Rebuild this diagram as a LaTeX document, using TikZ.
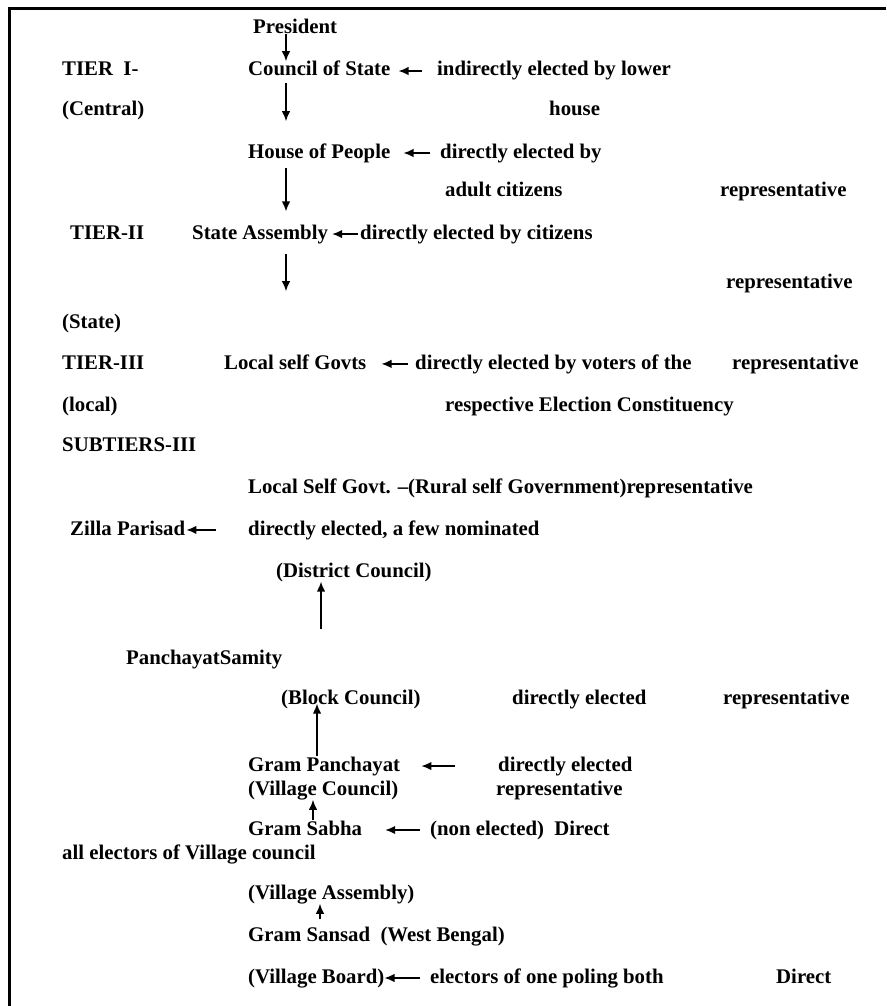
\documentclass[tikz,border=0pt]{standalone}
\usepackage{fontspec}
\setmainfont{Liberation Serif}
\usetikzlibrary{arrows.meta,calc}
\definecolor{color_frame}{HTML}{000000}

\begin{document}
\begin{tikzpicture}[x=1pt,y=-1pt,
		every node/.style={anchor=base west,inner sep=0pt,font=\bfseries\fontsize{20.8}{25}\selectfont},
		arr/.style={-{Latex[length=10pt,width=8.5pt]},line width=1.5pt}]
		\useasboundingbox (0, 0) rectangle (886, 1006);
		% Frame
		\draw[line width=3pt,color_frame]
			(9, 1006) -- (9, 9) -- (886, 9)
			;

		% Points
		\coordinate (AX) at (286, 0);
		\coordinate (AXD) at (321, 0);
		\coordinate (AXB) at (317, 0);
		\coordinate (AXV) at (313, 0);
		\coordinate (AXA) at (320, 0);

		% Tier I
		\node (president) at (253, 34) {President};
		\node (tier_one) at (62, 76) {TIER\ \ I-};
		\node (council) at (248, 76) {Council of State};
		\node (council_note) at (437, 76) {indirectly elected by lower};
		\node (central) at (62, 116) {(Central)};
		\node (council_note_b) at (549, 116) {house};
		\node (house) at (248, 158) {House of People};
		\node (house_note) at (440, 158) {directly elected by};
		\node (house_note_b) at (445, 196) {adult citizens};
		\node (house_rep) at (720, 196) {representative};

		% Tier II
		\node (tier_two) at (70, 239) {TIER-II};
		\node (assembly) at (192, 239) {State Assembly};
		\node (assembly_note) at (360, 239) {directly elected by citizens};
		\node (assembly_rep) at (726, 288) {representative};
		\node (state) at (62, 328) {(State)};

		% Tier III
		\node (tier_three) at (62, 369) {TIER-III};
		\node (local) at (224, 369) {Local self Govts};
		\node (local_note) at (415, 369) {directly elected by voters of the};
		\node (local_rep) at (732, 369) {representative};
		\node (local_tag) at (62, 411) {(local)};
		\node (local_note_b) at (445, 411) {respective Election Constituency};
		\node (subtiers) at (62, 451) {SUBTIERS-III};
		\node (rural) at (248, 493) {Local Self Govt. --(Rural self Government)representative};

		% Sub tiers
		\node (zilla) at (70, 535) {Zilla Parisad};
		\node (zilla_note) at (248, 535) {directly elected, a few nominated};
		\node (district) at (276, 577) {(District Council)};
		\node (samity) at (126, 664) {PanchayatSamity};
		\node (block) at (281, 704) {(Block Council)};
		\node (block_note) at (512, 704) {directly elected};
		\node (block_rep) at (723, 704) {representative};
		\node (panchayat) at (248, 771) {Gram Panchayat};
		\node (panchayat_note) at (498, 771) {directly elected};
		\node (village_council) at (248, 795) {(Village Council)};
		\node (panchayat_rep) at (496, 795) {representative};
		\node (sabha) at (248, 835) {Gram Sabha};
		\node (sabha_note) at (430, 835) {(non elected)\ \ Direct};
		\node (electors) at (62, 859) {all electors of Village council};
		\node (village_assembly) at (248, 899) {(Village Assembly)};
		\node (sansad) at (248, 941) {Gram Sansad\ \ (West Bengal)};
		\node (board) at (248, 983) {(Village Board)};
		\node (board_note) at (430, 983) {electors of one poling both};
		\node (board_direct) at (776, 983) {Direct};

		% Down arrows
		\draw[arr] (president.south -| AX) -- (council.north -| AX);
		\draw[arr,shorten <=7pt,shorten >=22pt] (council.south -| AX) -- (house.north -| AX);
		\draw[arr,shorten <=5pt,shorten >=13pt] (house.south -| AX) -- (assembly.north -| AX);
		\draw[arr,shorten <=10pt,shorten >=63pt] (assembly.south -| AX) -- (local.north -| AX);

		% Up arrows
		\draw[arr,shorten <=20pt] (samity.north -| AXD) -- (district.south -| AXD);
		\draw[arr,shorten >=-5pt] (panchayat.north -| AXB) -- (block.south -| AXB);
		\draw[arr] (sabha.north -| AXV) -- (village_council.south -| AXV);
		\draw[arr,shorten <=7pt] (sansad.north -| AXA) -- (village_assembly.south -| AXA);

		% Left arrows
		\draw[arr,shorten <=15pt,shorten >=8pt] (council_note.west) -- (council_note.west -| council.east);
		\draw[arr,shorten <=10pt,shorten >=13pt] (house_note.west) -- (house_note.west -| house.east);
		\draw[arr,shorten <=2pt,shorten >=4pt] (assembly_note.west) -- (assembly_note.west -| assembly.east);
		\draw[arr,shorten <=7pt,shorten >=15pt] (local_note.west) -- (local_note.west -| local.east);
		\draw[arr,shorten <=32pt,shorten >=1pt] (zilla_note.west) -- (zilla_note.west -| zilla.east);
		\draw[arr,shorten <=43pt,shorten >=21pt] (panchayat_note.west) -- (panchayat_note.west -| panchayat.east);
		\draw[arr,shorten <=10pt,shorten >=23pt] (sabha_note.west) -- (sabha_note.west -| sabha.east);
		\draw[arr,shorten <=10pt] (board_note.west) -- (board_note.west -| board.east);
\end{tikzpicture}
\end{document}
